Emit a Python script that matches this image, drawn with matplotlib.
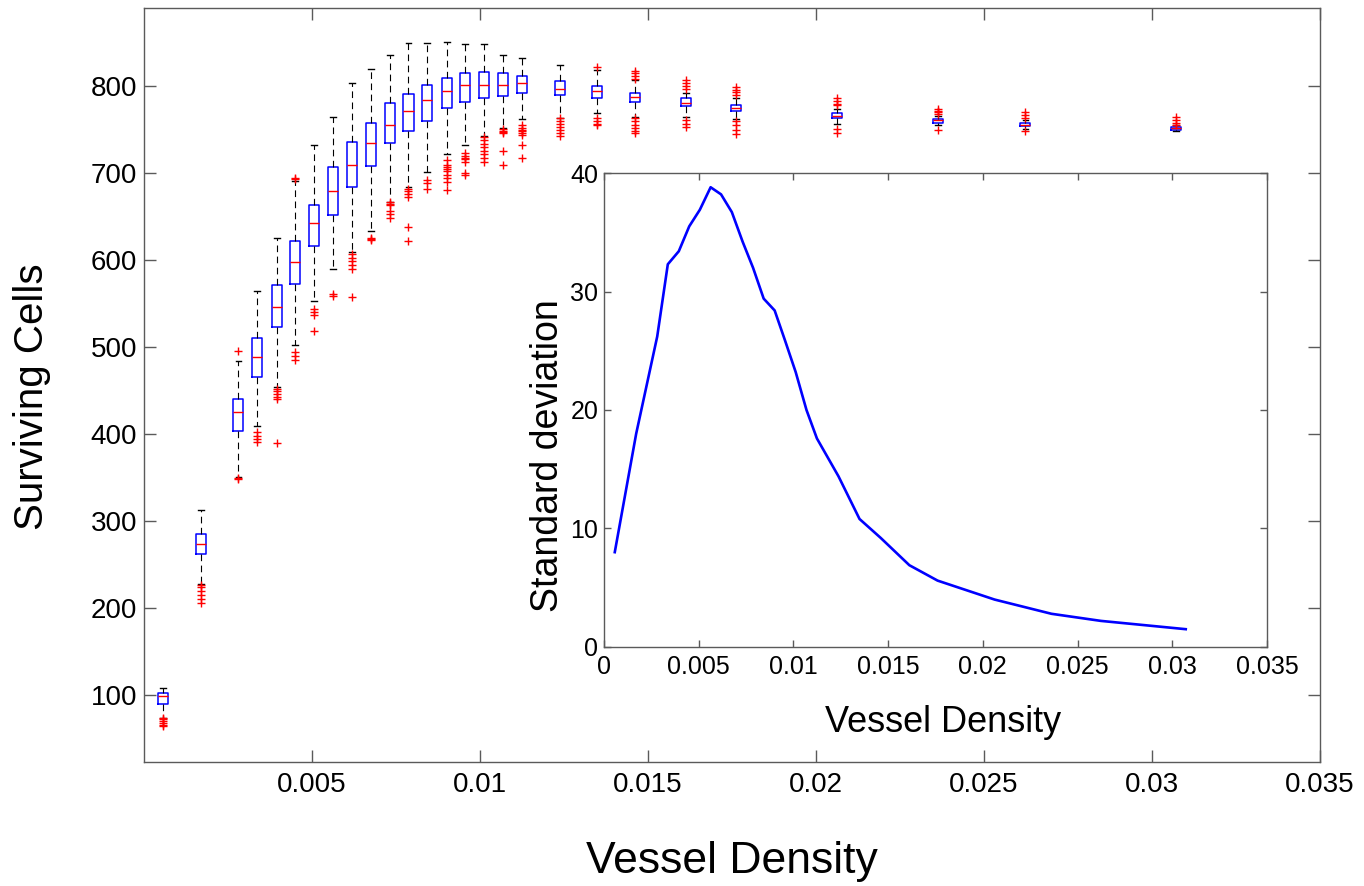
import matplotlib
matplotlib.use('Agg')  # pas d'écran
import matplotlib.pyplot as plt

plt.rcParams['font.family'] = ['Liberation Sans', 'DejaVu Sans']

# Densités vasculaires (positions des boîtes et abscisses de l'encart)
density = [0.00057, 0.00170, 0.00281, 0.00337, 0.00395, 0.00450, 0.00506,
           0.00563, 0.00618, 0.00675, 0.00732, 0.00787, 0.00843, 0.00901,
           0.00955, 0.01012, 0.01069, 0.01124, 0.01238, 0.01349, 0.01461,
           0.01612, 0.01761, 0.02062, 0.02362, 0.02623, 0.03071]

# Statistiques des boîtes (cellules survivantes)
whis_hi = [108, 313, 484, 565, 625, 691, 733, 765, 804, 820, 836, 850, 850, 851,
           849, 849, 836, 833, 825, 819, 807, 792, 786, 774, 766, 761, 755]
q3 = [102, 285, 440, 510, 572, 622, 664, 707, 736, 758, 781, 791, 801, 810,
      815, 816, 815, 812, 806, 800, 792, 786, 779, 769, 762, 758, 753]
median = [99, 274, 425, 489, 546, 598, 643, 680, 709, 735, 755, 771, 784, 794,
          801, 802, 802, 804, 797, 794, 788, 781, 775, 766, 761, 756, 752]
q1 = [90, 262, 404, 466, 523, 573, 616, 652, 684, 708, 735, 748, 760, 775,
      782, 787, 789, 792, 790, 787, 782, 777, 772, 763, 758, 754, 750]
whis_lo = [74, 228, 351, 409, 454, 502, 553, 590, 609, 634, 667, 684, 701, 722,
           733, 743, 752, 762, 764, 769, 765, 765, 762, 757, 755, 751, 749]
outliers = [
    [74, 72, 70, 68, 66, 64],
    [226, 224, 220, 215, 210, 206],
    [496, 350, 348],
    [402, 398, 394, 391],
    [452, 449, 446, 443, 440, 390],
    [695, 693, 494, 490, 485],
    [544, 540, 537, 519],
    [561, 559],
    [607, 603, 599, 595, 590, 558],
    [626, 624, 623],
    [667, 665, 663, 657, 653, 649],
    [682, 679, 676, 673, 638, 622],
    [692, 689, 682],
    [715, 710, 707, 705, 702, 698, 694, 690, 681],
    [723, 720, 718, 716, 713, 700, 698],
    [742, 738, 734, 730, 726, 722, 718, 713],
    [751, 749, 747, 746, 725, 709],
    [755, 752, 750, 748, 746, 744, 733, 718],
    [763, 760, 757, 753, 750, 746, 743],
    [822, 763, 760, 757, 755],
    [818, 815, 812, 808, 763, 760, 756, 752, 749, 746],
    [807, 804, 800, 797, 761, 757, 753],
    [799, 796, 793, 790, 760, 756, 750, 745],
    [786, 783, 780, 778, 751, 746],
    [774, 772, 770, 768, 750],
    [770, 767, 764, 748],
    [765, 761, 758, 756],
]

# Écart-type en fonction de la densité (encart)
std_dev = [8.0, 18.0, 26.2, 32.3, 33.4, 35.5, 36.9, 38.8, 38.2, 36.7, 34.2,
           32.0, 29.4, 28.4, 25.9, 23.2, 20.0, 17.6, 14.4, 10.8, 9.2, 6.9,
           5.6, 4.0, 2.8, 2.2, 1.5]

main_xticks = [0.005, 0.01, 0.015, 0.02, 0.025, 0.03, 0.035]
main_xticklabels = ['0.005', '0.01', '0.015', '0.02', '0.025', '0.03', '0.035']
main_yticks = [100, 200, 300, 400, 500, 600, 700, 800]
inset_xticks = [0, 0.005, 0.01, 0.015, 0.02, 0.025, 0.03, 0.035]
inset_xticklabels = ['0', '0.005', '0.01', '0.015', '0.02', '0.025', '0.03', '0.035']
inset_yticks = [0, 10, 20, 30, 40]

spine_col = '#5a5a5a'

fig = plt.figure(figsize=(13.64, 8.86), dpi=100)

# ── Axe principal : boîtes à moustaches ──────────────────────────────────
ax = fig.add_axes([0.1056, 0.140, 0.8622, 0.851])
stats = []
for i in range(len(density)):
    stats.append({'med': median[i], 'q1': q1[i], 'q3': q3[i],
                  'whislo': whis_lo[i], 'whishi': whis_hi[i],
                  'fliers': outliers[i]})

ax.bxp(stats, positions=density, widths=0.0003, capwidths=0.00017,
       manage_ticks=False,
       boxprops=dict(color='#0000ff', linewidth=1.1),
       medianprops=dict(color='#ff0000', linewidth=1.0),
       whiskerprops=dict(color='black', linewidth=0.8, linestyle=(0, (6, 4))),
       capprops=dict(color='black', linewidth=1.0),
       flierprops=dict(marker='+', markeredgecolor='#ff0000', markersize=6,
                       markeredgewidth=1.0, linestyle='none'))

ax.set_xlim(0, 0.035)
ax.set_ylim(23, 890)
ax.set_xticks(main_xticks)
ax.set_xticklabels(main_xticklabels)
ax.set_yticks(main_yticks)
ax.tick_params(direction='in', length=8.5, width=1, color=spine_col,
               labelsize=20, top=True, right=True)
ax.tick_params(axis='x', pad=7)
ax.tick_params(axis='y', pad=5)
for s in ax.spines.values():
    s.set_color(spine_col)
    s.set_linewidth(1)
ax.set_xlabel('Vessel Density', fontsize=32)
ax.set_ylabel('Surviving Cells', fontsize=29)
ax.xaxis.set_label_coords(0.5, -0.105)
ax.yaxis.set_label_coords(-0.079, 0.484)

# ── Encart : écart-type ─────────────────────────────────────────────────
axi = fig.add_axes([0.4428, 0.2698, 0.4861, 0.5349])
axi.set_facecolor('white')
axi.plot(density, std_dev, color='#0000ff', linewidth=1.9)
axi.set_xlim(0, 0.035)
axi.set_ylim(0, 40)
axi.set_xticks(inset_xticks)
axi.set_xticklabels(inset_xticklabels)
axi.set_yticks(inset_yticks)
axi.tick_params(direction='in', length=5, width=1, color=spine_col,
                labelsize=18, top=True, right=True)
axi.tick_params(axis='x', pad=6)
axi.tick_params(axis='y', pad=4)
for s in axi.spines.values():
    s.set_color(spine_col)
    s.set_linewidth(1)
axi.set_xlabel('Vessel Density', fontsize=26)
axi.set_ylabel('Standard deviation', fontsize=27)
axi.xaxis.set_label_coords(0.512, -0.122)
axi.yaxis.set_label_coords(-0.058, 0.403)

fig.savefig('out.png', dpi=100)
plt.close(fig)
